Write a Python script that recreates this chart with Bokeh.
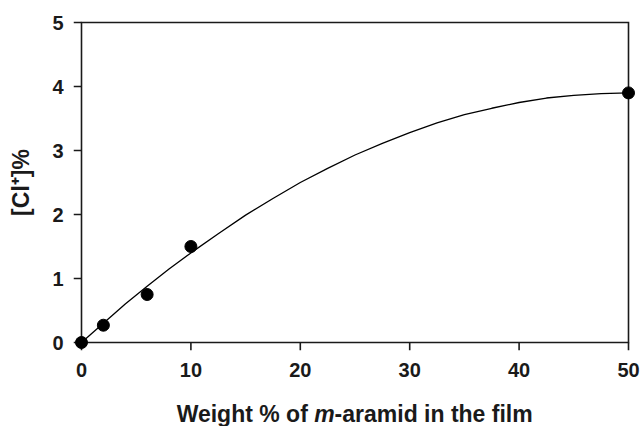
from bokeh.plotting import figure
from bokeh.layouts import column
from bokeh.models import Range1d, FixedTicker, Label
from bokeh.embed import file_html
from bokeh.resources import INLINE

# measured points
pts_x = [0, 2, 6, 10, 50]
pts_y = [0, 0.27, 0.75, 1.5, 3.9]

# fitted curve
curve_x = [0, 2, 4, 6, 8, 10, 12.5, 15, 17.5, 20, 22.5, 25, 27.5, 30, 32.5, 35, 37.5, 40, 42.5, 45, 47.5, 50]
curve_y = [0, 0.30, 0.60, 0.88, 1.15, 1.40, 1.70, 1.99, 2.25, 2.50, 2.72, 2.93, 3.11, 3.28, 3.43, 3.56, 3.66, 3.75, 3.82, 3.86, 3.89, 3.90]

x_ticks = [0, 10, 20, 30, 40, 50]
y_ticks = [0, 1, 2, 3, 4, 5]

x_label_parts = ["Weight % of ", "m", "-aramid in the film"]
y_label = "[Cl⁺]%"

FONT = "Liberation Sans"
INK = "#1a1a1a"

# ---- layout (pixels) ----
W = 641
TICK = 8                 # outward tick length, also frame padding
LEFT = 73                # frame left edge
FW, FH = 563, 336        # frame incl. padding
MAIN_H = 392
x0, x1 = x_ticks[0], x_ticks[-1]
y0, y1 = y_ticks[0], y_ticks[-1]
kx = (FW - 2 * TICK) / (x1 - x0)
ky = (FH - 2 * TICK) / (y1 - y0)
padx, pady = TICK / kx, TICK / ky

p = figure(width=W, height=MAIN_H, output_backend="svg", toolbar_location=None, title=None,
           x_range=Range1d(x0 - padx, x1 + padx), y_range=Range1d(y0 - pady, y1 + pady),
           min_border_left=LEFT, min_border_right=W - LEFT - FW,
           min_border_top=14, min_border_bottom=MAIN_H - 14 - FH)
p.frame_width = FW
p.frame_height = FH
p.outline_line_color = None
p.grid.visible = False
p.background_fill_color = "white"
p.border_fill_color = "white"

# plot box
p.line([x0, x1, x1, x0, x0], [y0, y0, y1, y1, y0], line_color=INK, line_width=1.6,
       line_join="miter")
# outward ticks
p.segment(x0=x_ticks, y0=[y0 - pady] * len(x_ticks), x1=x_ticks, y1=[y0] * len(x_ticks),
          line_color=INK, line_width=1.6)
p.segment(x0=[x0 - padx] * len(y_ticks), y0=y_ticks, x1=[x0] * len(y_ticks), y1=y_ticks,
          line_color=INK, line_width=1.6)

p.line(curve_x, curve_y, line_color="black", line_width=1.3)
p.scatter(pts_x, pts_y, size=12, color="black")

for ax in (p.xaxis[0], p.yaxis[0]):
    ax.axis_line_color = None
    ax.major_tick_line_color = None
    ax.major_tick_out = 0
    ax.major_tick_in = 0
    ax.minor_tick_line_color = None
    ax.major_label_text_font = FONT
    ax.major_label_text_font_style = "bold"
    ax.major_label_text_font_size = "20px"
    ax.major_label_text_color = INK
    ax.axis_label_text_font = FONT
    ax.axis_label_text_font_style = "bold"
    ax.axis_label_text_font_size = "23px"
    ax.axis_label_text_color = INK

p.xaxis[0].ticker = FixedTicker(ticks=x_ticks)
p.yaxis[0].ticker = FixedTicker(ticks=y_ticks)
p.xaxis[0].major_label_standoff = 12
p.yaxis[0].major_label_standoff = 10
p.yaxis[0].axis_label = y_label
p.yaxis[0].axis_label_standoff = 15

# ---- strip for the x-axis title (mixed bold / bold italic) ----
# its frame is aligned with the main frame; data x == page pixel x
SH = 426 - MAIN_H
s = figure(width=W, height=SH, output_backend="svg", toolbar_location=None, title=None,
           x_range=Range1d(LEFT, LEFT + FW), y_range=Range1d(0, SH),
           x_axis_location=None, y_axis_location=None,
           min_border_left=LEFT, min_border_right=W - LEFT - FW,
           min_border_top=0, min_border_bottom=0)
s.frame_width = FW
s.frame_height = SH
s.outline_line_color = None
s.grid.visible = False
s.background_fill_color = "white"
s.border_fill_color = "white"

common = dict(y=12.6, text_font=FONT, text_font_size="23px", text_color=INK,
              text_baseline="alphabetic")
s.add_layout(Label(x=313.7, text=x_label_parts[0], text_align="right",
                   text_font_style="bold", **common))
s.add_layout(Label(x=313.7, text=x_label_parts[1], text_align="left",
                   text_font_style="bold italic", **common))
s.add_layout(Label(x=334.1, text=x_label_parts[2], text_align="left",
                   text_font_style="bold", **common))

open("out.html", "w").write(file_html(column(p, s, spacing=0), INLINE))
